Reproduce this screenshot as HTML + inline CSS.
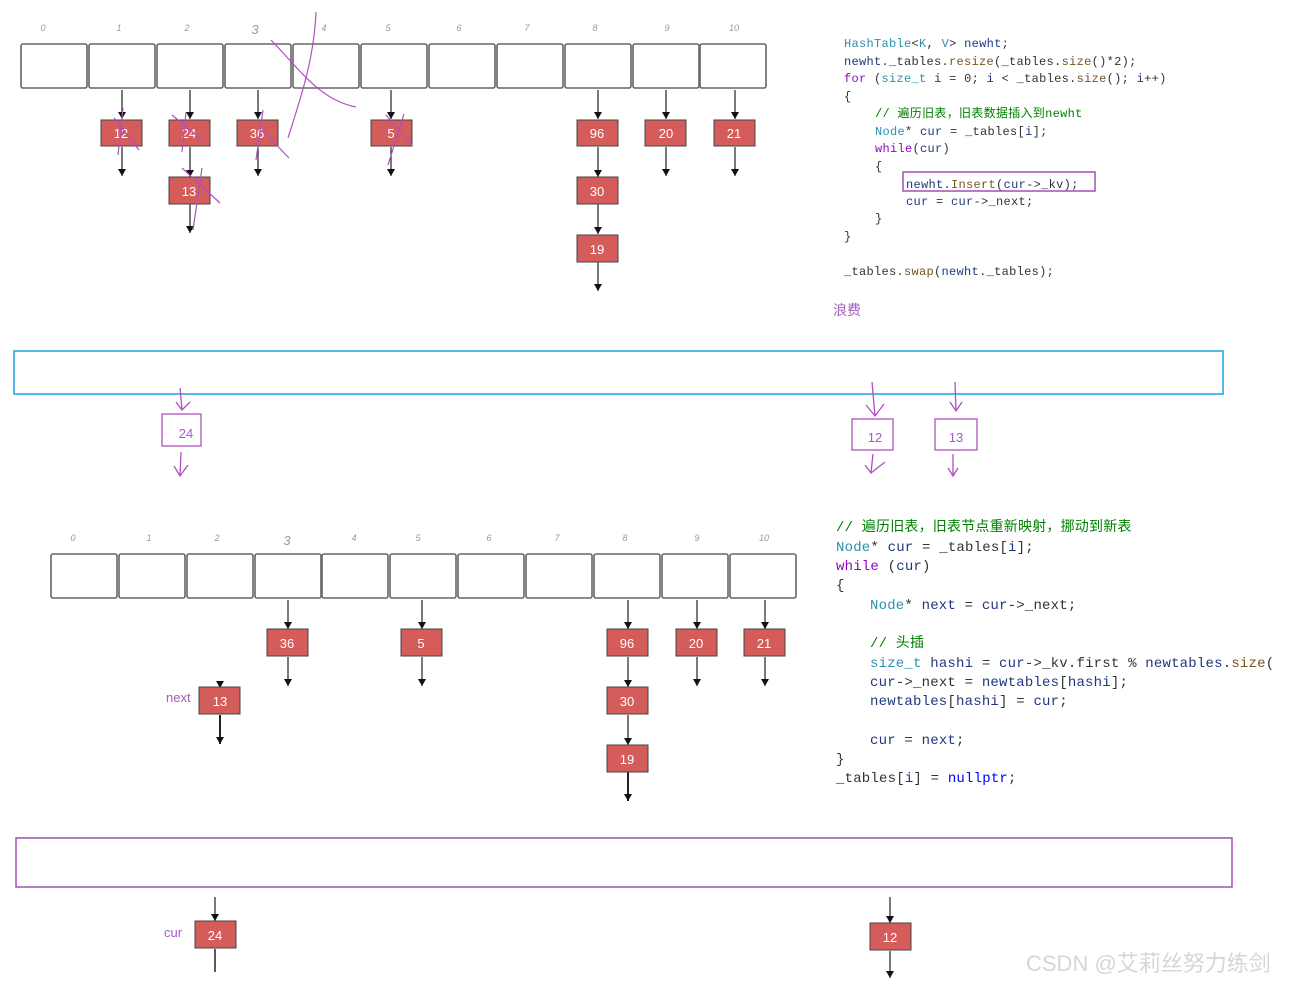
<!DOCTYPE html>
<html><head><meta charset="utf-8"><style>
html,body{margin:0;padding:0;background:#fff;width:1294px;height:984px;overflow:hidden}
svg{display:block}
.idx{font:italic 9px "Liberation Sans",sans-serif;fill:#999}
.nt{font:13px "Liberation Sans",sans-serif;fill:#fff}
.c1{font:12px "Liberation Mono","Noto Sans CJK SC",monospace;fill:#333;letter-spacing:0.3px}
.c2{font:14px "Liberation Mono","Noto Sans CJK SC",monospace;fill:#333;letter-spacing:0.2px}
</style></head><body>
<svg width="1294" height="984" viewBox="0 0 1294 984" xmlns="http://www.w3.org/2000/svg">
<defs>
<marker id="ar" markerWidth="8" markerHeight="8" refX="7" refY="4" orient="auto" markerUnits="userSpaceOnUse"><path d="M0,0 L7,4 L0,8 z" fill="#111"/></marker>
</defs>
<g id="top">
<g fill="#fff" stroke="#666" stroke-width="1.6">
<rect x="21" y="44" width="66" height="44" rx="2"/><rect x="89" y="44" width="66" height="44" rx="2"/><rect x="157" y="44" width="66" height="44" rx="2"/><rect x="225" y="44" width="66" height="44" rx="2"/><rect x="293" y="44" width="66" height="44" rx="2"/><rect x="361" y="44" width="66" height="44" rx="2"/><rect x="429" y="44" width="66" height="44" rx="2"/><rect x="497" y="44" width="66" height="44" rx="2"/><rect x="565" y="44" width="66" height="44" rx="2"/><rect x="633" y="44" width="66" height="44" rx="2"/><rect x="700" y="44" width="66" height="44" rx="2"/>
</g>
<g class="idx" text-anchor="middle">
<text x="43" y="31">0</text><text x="119" y="31">1</text><text x="187" y="31">2</text><text x="255" y="34" style="font-size:13px">3</text><text x="324" y="31">4</text><text x="388" y="31">5</text><text x="459" y="31">6</text><text x="527" y="31">7</text><text x="595" y="31">8</text><text x="667" y="31">9</text><text x="734" y="31">10</text>
</g>
<g stroke="#222" stroke-width="1.2" marker-end="url(#ar)">
<line x1="122" y1="90" x2="122" y2="119"/><line x1="190" y1="90" x2="190" y2="119"/><line x1="258" y1="90" x2="258" y2="119"/><line x1="391" y1="90" x2="391" y2="119"/><line x1="598" y1="90" x2="598" y2="119"/><line x1="666" y1="90" x2="666" y2="119"/><line x1="735" y1="90" x2="735" y2="119"/>
<line x1="122" y1="147" x2="122" y2="176"/><line x1="190" y1="147" x2="190" y2="177"/><line x1="258" y1="147" x2="258" y2="176"/><line x1="391" y1="147" x2="391" y2="176"/><line x1="598" y1="147" x2="598" y2="177"/><line x1="666" y1="147" x2="666" y2="176"/><line x1="735" y1="147" x2="735" y2="176"/>
<line x1="190" y1="204" x2="190" y2="233"/><line x1="598" y1="204" x2="598" y2="234"/><line x1="598" y1="262" x2="598" y2="291"/>
</g>
<g fill="#d45c5a" stroke="#444" stroke-width="1">
<rect x="101" y="120" width="41" height="26"/><rect x="169" y="120" width="41" height="26"/><rect x="237" y="120" width="41" height="26"/><rect x="371" y="120" width="41" height="26"/><rect x="577" y="120" width="41" height="26"/><rect x="645" y="120" width="41" height="26"/><rect x="714" y="120" width="41" height="26"/>
<rect x="169" y="177" width="41" height="27"/><rect x="577" y="177" width="41" height="27"/><rect x="577" y="235" width="41" height="27"/>
</g>
<g class="nt" text-anchor="middle">
<text x="121" y="138">12</text><text x="189" y="138">24</text><text x="257" y="138">36</text><text x="391" y="138">5</text><text x="597" y="138">96</text><text x="666" y="138">20</text><text x="734" y="138">21</text>
<text x="189" y="196">13</text><text x="597" y="196">30</text><text x="597" y="254">19</text>
</g>
<g fill="none" stroke="#b04fc0" stroke-width="1.2">
<path d="M316,12 C314,60 300,100 288,138"/><path d="M271,40 C300,70 320,100 356,107"/>
<path d="M114,118 L139,150 M123,108 L118,155"/><path d="M172,115 L203,141 M186,112 L182,152"/>
<path d="M263,110 L256,160 M262,130 L289,158"/><path d="M386,115 L412,145 M404,114 L388,165"/>
<path d="M182,168 L220,203 M202,168 L193,230"/>
</g>
</g>
<g class="c1">
<text x="844" y="47"><tspan fill="#2b91af">HashTable</tspan>&lt;<tspan fill="#2b91af">K</tspan>, <tspan fill="#2b91af">V</tspan>&gt; <tspan fill="#1f377f">newht</tspan>;</text>
<text x="844" y="65"><tspan fill="#1f377f">newht</tspan>._tables.<tspan fill="#74531f">resize</tspan>(_tables.<tspan fill="#74531f">size</tspan>()*2);</text>
<text x="844" y="82"><tspan fill="#8f08c4">for</tspan> (<tspan fill="#2b91af">size_t</tspan> <tspan fill="#1f377f">i</tspan> = 0; <tspan fill="#1f377f">i</tspan> &lt; _tables.<tspan fill="#74531f">size</tspan>(); <tspan fill="#1f377f">i</tspan>++)</text>
<text x="844" y="100">{</text>
<text x="875" y="117" fill="#008000">// 遍历旧表，旧表数据插入到newht</text>
<text x="875" y="135"><tspan fill="#2b91af">Node</tspan>* <tspan fill="#1f377f">cur</tspan> = _tables[<tspan fill="#1f377f">i</tspan>];</text>
<text x="875" y="152"><tspan fill="#8f08c4">while</tspan>(<tspan fill="#1f377f">cur</tspan>)</text>
<text x="875" y="170">{</text>
<text x="906" y="188"><tspan fill="#1f377f">newht</tspan>.<tspan fill="#74531f">Insert</tspan>(<tspan fill="#1f377f">cur</tspan>-&gt;_kv);</text>
<text x="906" y="205"><tspan fill="#1f377f">cur</tspan> = <tspan fill="#1f377f">cur</tspan>-&gt;_next;</text>
<text x="875" y="222">}</text>
<text x="844" y="240">}</text>
<text x="844" y="275">_tables.<tspan fill="#74531f">swap</tspan>(<tspan fill="#1f377f">newht</tspan>._tables);</text>
</g>
<rect x="903" y="172" width="192" height="19" fill="none" stroke="#a44fb5" stroke-width="1.5"/>
<text x="833" y="315" style="font:14px 'Noto Sans CJK SC',sans-serif" fill="#a45cc0">浪费</text>
<rect x="14" y="351" width="1209" height="43" fill="none" stroke="#1aa3e0" stroke-width="1.5"/>
<g fill="none" stroke="#b04fc0" stroke-width="1.3">
<rect x="162" y="414" width="39" height="32"/><rect x="852" y="419" width="41" height="31"/><rect x="935" y="419" width="42" height="31"/>
<path d="M180,388 L182,410 M176,402 L182,410 L190,402"/><path d="M181,452 L180,476 M174,466 L180,476 L188,465"/>
<path d="M872,382 L875,416 M866,405 L875,416 L884,404"/><path d="M873,454 L871,473 M865,465 L871,473 L885,462"/>
<path d="M955,382 L956,411 M950,402 L956,411 L962,402"/><path d="M953,454 L953,476 M948,468 L953,476 L958,468"/>
</g>
<g style="font:13px 'Liberation Sans',sans-serif" fill="#a45cc0" text-anchor="middle"><text x="186" y="438">24</text><text x="875" y="442">12</text><text x="956" y="442">13</text></g>
<g fill="#fff" stroke="#666" stroke-width="1.6">
<rect x="51" y="554" width="66" height="44" rx="2"/><rect x="119" y="554" width="66" height="44" rx="2"/><rect x="187" y="554" width="66" height="44" rx="2"/><rect x="255" y="554" width="66" height="44" rx="2"/><rect x="322" y="554" width="66" height="44" rx="2"/><rect x="390" y="554" width="66" height="44" rx="2"/><rect x="458" y="554" width="66" height="44" rx="2"/><rect x="526" y="554" width="66" height="44" rx="2"/><rect x="594" y="554" width="66" height="44" rx="2"/><rect x="662" y="554" width="66" height="44" rx="2"/><rect x="730" y="554" width="66" height="44" rx="2"/>
</g>
<g class="idx" text-anchor="middle">
<text x="73" y="541">0</text><text x="149" y="541">1</text><text x="217" y="541">2</text><text x="287" y="545" style="font-size:13px">3</text><text x="354" y="541">4</text><text x="418" y="541">5</text><text x="489" y="541">6</text><text x="557" y="541">7</text><text x="625" y="541">8</text><text x="697" y="541">9</text><text x="764" y="541">10</text>
</g>
<g stroke="#222" stroke-width="1.2" marker-end="url(#ar)">
<line x1="288" y1="600" x2="288" y2="629"/><line x1="422" y1="600" x2="422" y2="629"/><line x1="628" y1="600" x2="628" y2="629"/><line x1="697" y1="600" x2="697" y2="629"/><line x1="765" y1="600" x2="765" y2="629"/>
<line x1="288" y1="657" x2="288" y2="686"/><line x1="422" y1="657" x2="422" y2="686"/><line x1="628" y1="657" x2="628" y2="687"/><line x1="697" y1="657" x2="697" y2="686"/><line x1="765" y1="657" x2="765" y2="686"/>
<line x1="220" y1="682" x2="220" y2="688"/><line x1="220" y1="715" x2="220" y2="744" stroke-width="2"/><line x1="628" y1="715" x2="628" y2="745"/><line x1="628" y1="772" x2="628" y2="801" stroke-width="2"/>
</g>
<g fill="#d45c5a" stroke="#444" stroke-width="1">
<rect x="267" y="629" width="41" height="27"/><rect x="401" y="629" width="41" height="27"/><rect x="607" y="629" width="41" height="27"/><rect x="676" y="629" width="41" height="27"/><rect x="744" y="629" width="41" height="27"/>
<rect x="199" y="687" width="41" height="27"/><rect x="607" y="687" width="41" height="27"/><rect x="607" y="745" width="41" height="27"/>
</g>
<g class="nt" text-anchor="middle">
<text x="287" y="648">36</text><text x="421" y="648">5</text><text x="627" y="648">96</text><text x="696" y="648">20</text><text x="764" y="648">21</text>
<text x="220" y="706">13</text><text x="627" y="706">30</text><text x="627" y="764">19</text>
</g>
<text x="166" y="702" style="font:13px 'Liberation Sans',sans-serif" fill="#a45cc0">next</text>
<g class="c2">
<text x="836" y="531" fill="#008000">// 遍历旧表，旧表节点重新映射，挪动到新表</text>
<text x="836" y="551"><tspan fill="#2b91af">Node</tspan>* <tspan fill="#1f377f">cur</tspan> = _tables[<tspan fill="#1f377f">i</tspan>];</text>
<text x="836" y="570"><tspan fill="#8f08c4">while</tspan> (<tspan fill="#1f377f">cur</tspan>)</text>
<text x="836" y="589">{</text>
<text x="870" y="609"><tspan fill="#2b91af">Node</tspan>* <tspan fill="#1f377f">next</tspan> = <tspan fill="#1f377f">cur</tspan>-&gt;_next;</text>
<text x="870" y="647" fill="#008000">// 头插</text>
<text x="870" y="667"><tspan fill="#2b91af">size_t</tspan> <tspan fill="#1f377f">hashi</tspan> = <tspan fill="#1f377f">cur</tspan>-&gt;_kv.first % <tspan fill="#1f377f">newtables</tspan>.<tspan fill="#74531f">size</tspan>(</text>
<text x="870" y="686"><tspan fill="#1f377f">cur</tspan>-&gt;_next = <tspan fill="#1f377f">newtables</tspan>[<tspan fill="#1f377f">hashi</tspan>];</text>
<text x="870" y="705"><tspan fill="#1f377f">newtables</tspan>[<tspan fill="#1f377f">hashi</tspan>] = <tspan fill="#1f377f">cur</tspan>;</text>
<text x="870" y="744"><tspan fill="#1f377f">cur</tspan> = <tspan fill="#1f377f">next</tspan>;</text>
<text x="836" y="763">}</text>
<text x="836" y="782">_tables[<tspan fill="#1f377f">i</tspan>] = <tspan fill="#0000ff">nullptr</tspan>;</text>
</g>
<rect x="1274" y="650" width="20" height="22" fill="#fff"/>
<rect x="16" y="838" width="1216" height="49" fill="none" stroke="#a44fb5" stroke-width="1.5"/>
<g stroke="#222" stroke-width="1.2" marker-end="url(#ar)">
<line x1="215" y1="897" x2="215" y2="921"/><line x1="890" y1="897" x2="890" y2="923"/><line x1="890" y1="951" x2="890" y2="978"/>
</g>
<line x1="215" y1="949" x2="215" y2="972" stroke="#222" stroke-width="1.5"/>
<g fill="#d45c5a" stroke="#444" stroke-width="1">
<rect x="195" y="921" width="41" height="27"/><rect x="870" y="923" width="41" height="27"/>
</g>
<g class="nt" text-anchor="middle"><text x="215" y="940">24</text><text x="890" y="942">12</text></g>
<text x="164" y="937" style="font:13px 'Liberation Sans',sans-serif" fill="#a45cc0">cur</text>
<text x="1026" y="971" style="font:22px 'Liberation Sans','Noto Sans CJK SC',sans-serif" fill="#d6d6d6">CSDN @艾莉丝努力练剑</text>
</svg>
</body></html>
